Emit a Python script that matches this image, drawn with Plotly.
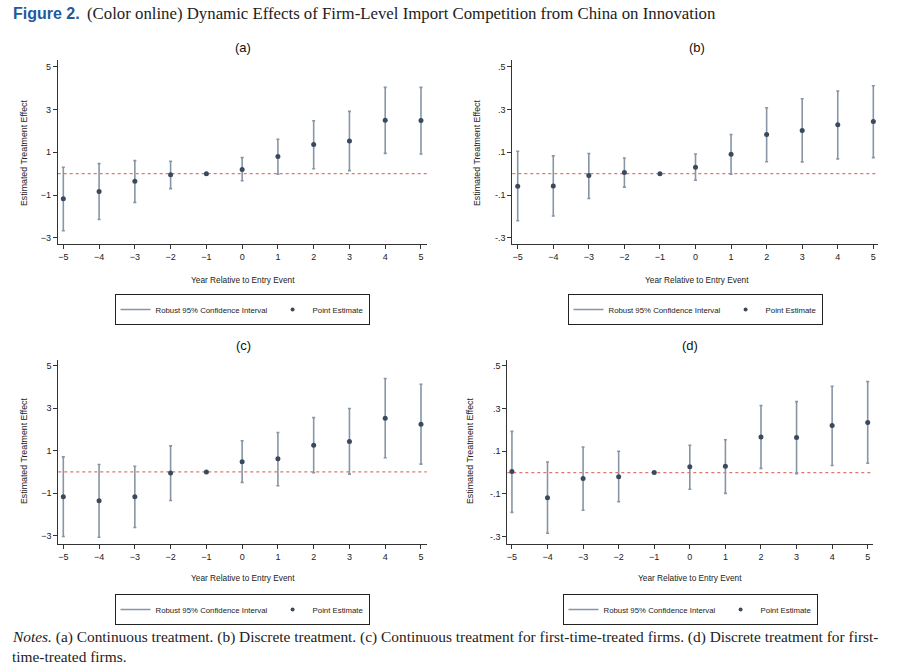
import plotly.graph_objects as go

years = [-5, -4, -3, -2, -1, 0, 1, 2, 3, 4, 5]
year_labels = ["\u22125", "\u22124", "\u22123", "\u22122", "\u22121", "0", "1", "2", "3", "4", "5"]

a_est = [-1.17, -0.83, -0.36, -0.05, 0, 0.20, 0.80, 1.36, 1.53, 2.50, 2.48]
a_lo = [-2.67, -2.14, -1.34, -0.70, 0, -0.33, -0.03, 0.23, 0.14, 0.95, 0.92]
a_hi = [0.30, 0.47, 0.61, 0.58, 0, 0.75, 1.61, 2.47, 2.91, 4.03, 4.03]

b_est = [-0.059, -0.058, -0.009, 0.006, 0, 0.030, 0.091, 0.183, 0.202, 0.228, 0.244]
b_lo = [-0.220, -0.198, -0.116, -0.063, 0, -0.031, -0.002, 0.056, 0.055, 0.069, 0.075]
b_hi = [0.105, 0.083, 0.094, 0.073, 0, 0.092, 0.183, 0.308, 0.350, 0.386, 0.411]

c_est = [-1.17, -1.36, -1.17, -0.05, 0, 0.48, 0.62, 1.26, 1.44, 2.53, 2.25]
c_lo = [-3.04, -3.07, -2.61, -1.34, 0, -0.49, -0.65, -0.04, -0.10, 0.67, 0.37]
c_hi = [0.71, 0.35, 0.27, 1.23, 0, 1.47, 1.86, 2.56, 2.99, 4.40, 4.13]

d_est = [0.005, -0.117, -0.028, -0.019, 0, 0.027, 0.030, 0.167, 0.164, 0.220, 0.234]
d_lo = [-0.186, -0.284, -0.176, -0.136, 0, -0.078, -0.097, 0.020, -0.005, 0.033, 0.044]
d_hi = [0.193, 0.050, 0.120, 0.100, 0, 0.128, 0.154, 0.314, 0.332, 0.404, 0.426]

cont_ticks = [5, 3, 1, -1, -3]
cont_labels = ["5", "3", "1", "\u22121", "\u22123"]
disc_ticks = [0.5, 0.3, 0.1, -0.1, -0.3]
disc_labels = [".5", ".3", ".1", "-.1", "-.3"]

panel_names = ["(a)", "(b)", "(c)", "(d)"]
ci_name = "Robust 95% Confidence Interval"
pt_name = "Point Estimate"
y_title = "Estimated Treatment Effect"
x_title = "Year Relative to Entry Event"
title_bold = "Figure 2."
title_rest = "(Color online) Dynamic Effects of Firm-Level Import Competition from China on Innovation"
notes_line1 = ("<i>Notes.</i> (a) Continuous treatment. (b) Discrete treatment. (c) Continuous treatment "
               "for first-time-treated firms. (d) Discrete treatment for first-")
notes_line2 = "time-treated firms."

W, H = 900, 670
BAR_COLOR = "#8795a5"
PT_COLOR = "#3a4a5e"
REF_COLOR = "#e2776b"
AX_COLOR = "#333333"
SANS = "Liberation Sans, Arial, sans-serif"
SERIF = "Liberation Serif, Times New Roman, serif"

panels = [
    dict(est=a_est, lo=a_lo, hi=a_hi, ticks=cont_ticks, labels=cont_labels,
         px=(57.7, 426.7), py=(60, 244.3), xr=(-5.157, 5.16), yr=(-3.30, 5.31),
         lab=(243, 47), ytl=(24, 153), xtl=(243, 280), leg=(242, 294)),
    dict(est=b_est, lo=b_lo, hi=b_hi, ticks=disc_ticks, labels=disc_labels,
         px=(512.3, 878.3), py=(60, 244.3), xr=(-5.152, 5.14), yr=(-0.330, 0.531),
         lab=(697, 47), ytl=(477, 153), xtl=(697, 280), leg=(695, 294)),
    dict(est=c_est, lo=c_lo, hi=c_hi, ticks=cont_ticks, labels=cont_labels,
         px=(58.3, 426.7), py=(360, 544), xr=(-5.14, 5.16), yr=(-3.39, 5.27),
         lab=(243, 345), ytl=(24, 451), xtl=(243, 578), leg=(242, 594)),
    dict(est=d_est, lo=d_lo, hi=d_hi, ticks=disc_ticks, labels=disc_labels,
         px=(507.3, 873.3), py=(360, 544), xr=(-5.13, 5.157), yr=(-0.334, 0.527),
         lab=(690, 345), ytl=(470, 451), xtl=(690, 578), leg=(690, 594)),
]

fig = go.Figure()
annotations = []
shapes = []
layout = {}

for i, p in enumerate(panels):
    n = i + 1
    xa = "x" if n == 1 else f"x{n}"
    ya = "y" if n == 1 else f"y{n}"
    leg = "legend" if n == 1 else f"legend{n}"
    plus = [h - e for h, e in zip(p["hi"], p["est"])]
    minus = [e - l for e, l in zip(p["est"], p["lo"])]

    fig.add_trace(go.Scatter(
        x=years, y=p["est"], mode="markers", xaxis=xa, yaxis=ya,
        marker=dict(size=0.1, color="rgba(0,0,0,0)"),
        error_y=dict(type="data", symmetric=False, array=plus, arrayminus=minus,
                     color=BAR_COLOR, thickness=1.6, width=1.5),
        showlegend=False, hoverinfo="skip"))
    fig.add_trace(go.Scatter(
        x=years, y=p["est"], mode="markers", xaxis=xa, yaxis=ya,
        marker=dict(size=5, color=PT_COLOR), showlegend=False))
    # legend entries
    fig.add_trace(go.Scatter(
        x=[None], y=[None], mode="lines", xaxis=xa, yaxis=ya, name=ci_name,
        line=dict(color=BAR_COLOR, width=1.6), legend=leg))
    fig.add_trace(go.Scatter(
        x=[None], y=[None], mode="markers", xaxis=xa, yaxis=ya, name=pt_name,
        marker=dict(size=4, color=PT_COLOR), legend=leg))

    xkey = "xaxis" if n == 1 else f"xaxis{n}"
    ykey = "yaxis" if n == 1 else f"yaxis{n}"
    layout[xkey] = dict(
        domain=[p["px"][0] / W, p["px"][1] / W], range=list(p["xr"]),
        anchor=ya, tickvals=years, ticktext=year_labels, showgrid=False,
        zeroline=False, showline=True, linecolor=AX_COLOR, linewidth=1,
        ticks="outside", ticklen=4, tickcolor=AX_COLOR,
        tickfont=dict(family=SANS, size=9, color="#222"), fixedrange=True)
    layout[ykey] = dict(
        domain=[1 - p["py"][1] / H, 1 - p["py"][0] / H], range=list(p["yr"]),
        anchor=xa, tickvals=p["ticks"], ticktext=p["labels"], showgrid=False,
        zeroline=False, showline=True, linecolor=AX_COLOR, linewidth=1,
        ticks="outside", ticklen=4, tickcolor=AX_COLOR,
        tickfont=dict(family=SANS, size=9, color="#222"), fixedrange=True)
    layout[leg] = dict(
        orientation="h", x=p["leg"][0] / W, xanchor="center",
        y=1 - p["leg"][1] / H, yanchor="top", bordercolor="#222", borderwidth=1,
        bgcolor="white", font=dict(family=SANS, size=7.8, color="#222"),
        itemwidth=30, entrywidth=0, tracegroupgap=0)

    shapes.append(dict(type="line", xref=f"{xa} domain", yref=ya, x0=0, x1=1,
                       y0=0, y1=0, line=dict(color=REF_COLOR, width=1.3, dash="dot"),
                       layer="below"))

    annotations.append(dict(text=panel_names[i], x=p["lab"][0] / W, y=1 - p["lab"][1] / H,
                            xref="paper", yref="paper", showarrow=False,
                            xanchor="center", yanchor="middle",
                            font=dict(family=SANS, size=13, color="#111")))
    annotations.append(dict(text=y_title, x=p["ytl"][0] / W, y=1 - p["ytl"][1] / H,
                            xref="paper", yref="paper", showarrow=False, textangle=-90,
                            xanchor="center", yanchor="middle",
                            font=dict(family=SANS, size=8.8, color="#222")))
    annotations.append(dict(text=x_title, x=p["xtl"][0] / W, y=1 - p["xtl"][1] / H,
                            xref="paper", yref="paper", showarrow=False,
                            xanchor="center", yanchor="middle",
                            font=dict(family=SANS, size=8.3, color="#222")))

annotations.append(dict(text="<b>" + title_bold + "</b>", x=11 / W, y=1 - 13 / H,
                        xref="paper", yref="paper", showarrow=False,
                        xanchor="left", yanchor="middle",
                        font=dict(family=SANS, size=16, color="#1f5a9c")))
annotations.append(dict(text=title_rest, x=85 / W, y=1 - 13 / H,
                        xref="paper", yref="paper", showarrow=False,
                        xanchor="left", yanchor="middle",
                        font=dict(family=SERIF, size=16.8, color="#222")))
annotations.append(dict(text=notes_line1, x=10 / W, y=1 - 637 / H,
                        xref="paper", yref="paper", showarrow=False,
                        xanchor="left", yanchor="middle",
                        font=dict(family=SERIF, size=15.4, color="#222")))
annotations.append(dict(text=notes_line2, x=10 / W, y=1 - 656 / H,
                        xref="paper", yref="paper", showarrow=False,
                        xanchor="left", yanchor="middle",
                        font=dict(family=SERIF, size=15.4, color="#222")))

fig.update_layout(
    width=W, height=H, margin=dict(l=0, r=0, t=0, b=0),
    paper_bgcolor="white", plot_bgcolor="white",
    annotations=annotations, shapes=shapes, **layout)

fig.write_html("out.html", config={"displayModeBar": False},
               post_script="document.body.style.margin='0px';")
